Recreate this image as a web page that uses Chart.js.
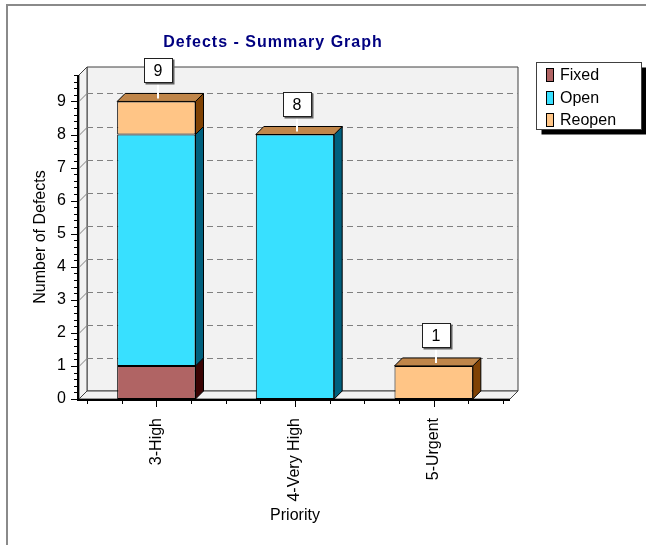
<!DOCTYPE html>
<html>
<head>
<meta charset="utf-8">
<title>Defects - Summary Graph</title>
<script src="https://cdn.jsdelivr.net/npm/chart.js@4"></script>
<style>
  html, body { margin: 0; padding: 0; background: #fff; }
  #wrap { width: 646px; height: 545px; }
</style>
</head>
<body>
<div id="wrap"><canvas id="defectsChart" width="646" height="545"></canvas></div>
<script>
// chart data
const categories = ["3-High", "4-Very High", "5-Urgent"];
const seriesNames = ["Fixed", "Open", "Reopen"];
const fixedCounts = [1, 0, 0];
const openCounts = [7, 8, 0];
const reopenCounts = [1, 0, 1];

// styles
const DEPTH = 8;
const FONT = "'Liberation Sans', Arial, sans-serif";
const frontColors = ["#b06464", "#38e0ff", "#ffc586"];
const sideColors = ["#3a0404", "#00607e", "#804204"];
const topColor = "#c0864a";
const wallColor = "#f2f2f2";

Chart.defaults.font.family = FONT;
Chart.defaults.font.size = 16;
Chart.defaults.color = "#000";

function poly(ctx, pts, fill, stroke) {
  ctx.beginPath();
  ctx.moveTo(pts[0][0], pts[0][1]);
  for (let i = 1; i < pts.length; i++) ctx.lineTo(pts[i][0], pts[i][1]);
  ctx.closePath();
  if (fill) { ctx.fillStyle = fill; ctx.fill(); }
  if (stroke) { ctx.strokeStyle = stroke; ctx.lineWidth = 1; ctx.stroke(); }
}

const frame3d = {
  id: "frame3d",
  beforeDraw(chart) {
    const ctx = chart.ctx;
    ctx.save();
    ctx.fillStyle = "#fff";
    ctx.fillRect(0, 0, chart.width, chart.height);
    // outer window frame
    ctx.strokeStyle = "#8a8a8a";
    ctx.lineWidth = 2;
    ctx.beginPath();
    ctx.moveTo(7, chart.height);
    ctx.lineTo(7, 5);
    ctx.lineTo(chart.width, 5);
    ctx.stroke();
    ctx.restore();
  },
  beforeDatasetsDraw(chart) {
    const ctx = chart.ctx;
    const { left, right, top, bottom } = chart.chartArea;
    const ys = chart.scales.y, xs = chart.scales.x;
    const D = DEPTH;
    const fl = left - 8, fr = right + 7;
    ctx.save();
    // back wall, left wall, floor
    poly(ctx, [[fl + D, top - D], [fr + D, top - D], [fr + D, bottom - D], [fl + D, bottom - D]], wallColor, "#404040");
    poly(ctx, [[fl, bottom], [fl, top], [fl + D, top - D], [fl + D, bottom - D]], wallColor, "#404040");
    poly(ctx, [[fl, bottom], [fr, bottom], [fr + D, bottom - D], [fl + D, bottom - D]], wallColor, "#404040");
    // grid lines
    ys.ticks.forEach(t => {
      if (t.value <= 0) return;
      const py = Math.round(ys.getPixelForValue(t.value)) + 0.5;
      ctx.strokeStyle = "#808080";
      ctx.lineWidth = 1;
      ctx.setLineDash([6, 4]);
      ctx.beginPath();
      ctx.moveTo(fl + D, py - D);
      ctx.lineTo(fr + D, py - D);
      ctx.stroke();
      ctx.setLineDash([]);
      ctx.beginPath();
      ctx.moveTo(fl, py);
      ctx.lineTo(fl + D, py - D);
      ctx.stroke();
    });
    // front axes
    ctx.strokeStyle = "#000";
    ctx.lineWidth = 2;
    ctx.beginPath();
    ctx.moveTo(fl - 1, top);
    ctx.lineTo(fl - 1, bottom + 1);
    ctx.lineTo(fr, bottom + 1);
    ctx.stroke();
    ctx.lineWidth = 1;
    // y ticks (minor every 0.2)
    for (let k = 0; k <= 49; k++) {
      const v = k / 5;
      const py = Math.round(ys.getPixelForValue(v)) + 0.5;
      const len = k % 5 === 0 ? 6 : 3;
      ctx.beginPath();
      ctx.moveTo(fl - 2 - len, py);
      ctx.lineTo(fl - 1, py);
      ctx.stroke();
    }
    // x ticks (quarter category steps)
    const n = categories.length;
    for (let k = 0; k <= n * 4; k++) {
      const px = Math.round(xs.getPixelForValue(-0.5 + k / 4)) + 0.5;
      const len = k % 4 === 2 ? 7 : 4;
      ctx.beginPath();
      ctx.moveTo(px, bottom + 1);
      ctx.lineTo(px, bottom + 1 + len);
      ctx.stroke();
    }
    ctx.restore();
  },
  afterDatasetsDraw(chart) {
    const ctx = chart.ctx;
    const D = DEPTH;
    const ds = chart.data.datasets;
    const ys = chart.scales.y, xs = chart.scales.x;
    ctx.save();
    ds.forEach((set, di) => {
      const meta = chart.getDatasetMeta(di);
      meta.data.forEach((bar, i) => {
        if (!set.data[i]) return;
        const p = bar.getProps(["x", "y", "base", "width"], true);
        const l = p.x - p.width / 2, r = p.x + p.width / 2;
        const t = Math.min(p.y, p.base), b = Math.max(p.y, p.base);
        poly(ctx, [[r, t], [r + D, t - D], [r + D, b - D], [r, b]], sideColors[di], "#000");
        const isTop = ds.every((o, oi) => oi <= di || !o.data[i]);
        if (isTop) poly(ctx, [[l, t], [r, t], [r + D, t - D], [l + D, t - D]], topColor, "#000");
      });
    });
    // total labels
    categories.forEach((c, i) => {
      const total = ds.reduce((s, o) => s + (o.data[i] || 0), 0);
      if (!total) return;
      const topPx = ys.getPixelForValue(total);
      const cx = Math.round(xs.getPixelForValue(i)) + 2;
      const w = 28, h = 24;
      const bx = cx - 14 + 0.5, by = Math.round(topPx) - 43 + 0.5;
      ctx.strokeStyle = "#fff";
      ctx.lineWidth = 2;
      ctx.beginPath();
      ctx.moveTo(cx, by + h);
      ctx.lineTo(cx, topPx - 3);
      ctx.stroke();
      ctx.fillStyle = "#606060";
      ctx.fillRect(bx + 1, by + 1, w + 1, h + 1);
      ctx.fillStyle = "#fff";
      ctx.fillRect(bx, by, w, h);
      ctx.strokeStyle = "#202020";
      ctx.lineWidth = 1;
      ctx.strokeRect(bx, by, w, h);
      ctx.fillStyle = "#000";
      ctx.font = "16px " + FONT;
      ctx.textAlign = "center";
      ctx.textBaseline = "middle";
      ctx.fillText(String(total), cx, by + h / 2 + 1);
    });
    ctx.restore();
  },
  afterDraw(chart) {
    const ctx = chart.ctx;
    ctx.save();
    // title
    ctx.font = "bold 16px " + FONT;
    ctx.fillStyle = "#000080";
    ctx.textAlign = "center";
    ctx.textBaseline = "middle";
    ctx.letterSpacing = "1px";
    ctx.fillText("Defects - Summary Graph", 273, 43);
    ctx.letterSpacing = "0px";
    // legend box with shadow
    const lx = 536.5, ly = 62.5, lw = 105, lh = 67;
    ctx.fillStyle = "#000";
    ctx.fillRect(lx + 5, ly + 5, lw, lh);
    ctx.fillStyle = "#fff";
    ctx.fillRect(lx, ly, lw, lh);
    ctx.strokeStyle = "#404040";
    ctx.lineWidth = 1;
    ctx.strokeRect(lx, ly, lw, lh);
    ctx.font = "16px " + FONT;
    ctx.textAlign = "left";
    chart.data.datasets.forEach((set, di) => {
      const cy = 75 + di * 22.5;
      ctx.fillStyle = set.backgroundColor;
      ctx.fillRect(546.5, Math.round(cy - 7) + 0.5, 7, 13);
      ctx.strokeStyle = "#000";
      ctx.strokeRect(546.5, Math.round(cy - 7) + 0.5, 7, 13);
      ctx.fillStyle = "#000";
      ctx.fillText(set.label, 560, cy + 1);
    });
    ctx.restore();
  }
};

const ctx = document.getElementById("defectsChart").getContext("2d");
new Chart(ctx, {
  type: "bar",
  data: {
    labels: categories,
    datasets: [
      { label: seriesNames[0], data: fixedCounts, backgroundColor: frontColors[0] },
      { label: seriesNames[1], data: openCounts, backgroundColor: frontColors[1] },
      { label: seriesNames[2], data: reopenCounts, backgroundColor: frontColors[2] },
    ],
  },
  options: {
    responsive: false,
    animation: false,
    layout: { padding: { left: 17, top: 75, right: 143, bottom: 0 } },
    datasets: {
      bar: {
        borderColor: "#000",
        borderWidth: 1,
        borderSkipped: false,
        barPercentage: 0.565,
        categoryPercentage: 1,
      },
    },
    plugins: {
      legend: { display: false },
      title: { display: false },
      tooltip: { enabled: false },
    },
    scales: {
      x: {
        stacked: true,
        grid: { display: false },
        border: { display: false },
        ticks: { minRotation: 90, maxRotation: 90, padding: 11, autoSkip: false },
        title: { display: true, text: "Priority", padding: { top: 0, bottom: 20 } },
        afterFit: (s) => { s.height = 146; },
      },
      y: {
        stacked: true,
        min: 0,
        max: 9.8,
        grid: { display: false },
        border: { display: false },
        ticks: { stepSize: 1, padding: 13 },
        afterBuildTicks: (s) => { s.ticks = s.ticks.filter((t) => Number.isInteger(t.value)); },
        title: { display: true, text: "Number of Defects", padding: { top: 14, bottom: 0 } },
        afterFit: (s) => { s.width = 70; },
      },
    },
  },
  plugins: [frame3d],
});
</script>
</body>
</html>
